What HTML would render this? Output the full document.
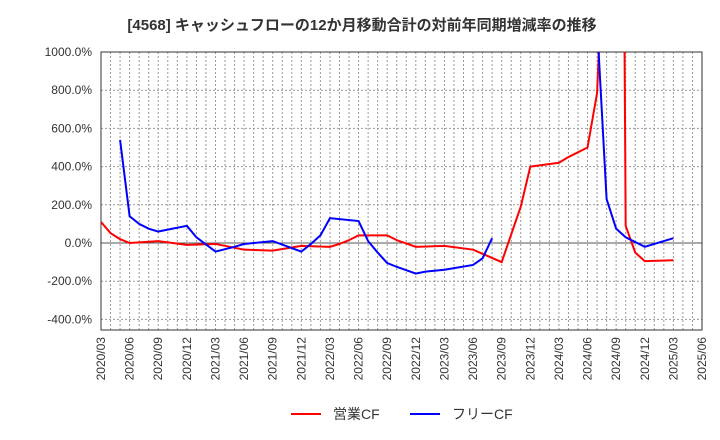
<!DOCTYPE html>
<html><head><meta charset="utf-8">
<style>
body{margin:0;background:#fff;}
svg{display:block;font-family:"Liberation Sans","Noto Sans CJK JP",sans-serif;}
</style></head>
<body>
<svg id="chart" width="720" height="440" viewBox="0 0 720 440">
<text x="362" y="30" text-anchor="middle" font-size="15" font-weight="bold" fill="#333">[4568]  キャッシュフローの12か月移動合計の対前年同期増減率の推移</text>
<g id="grid"></g><g id="axes"></g><g id="series"></g>
<g>
<line x1="291" y1="414" x2="321" y2="414" stroke="#f00" stroke-width="2"/>
<text x="333" y="419" font-size="14" fill="#333">営業CF</text>
<line x1="410" y1="414" x2="440" y2="414" stroke="#00f" stroke-width="2"/>
<text x="452" y="419" font-size="14" fill="#333">フリーCF</text>
</g>
</svg>
<script>
const yTicks=[1000,800,600,400,200,0,-200,-400];
const xTickLabels=["2020/03","2020/06","2020/09","2020/12","2021/03","2021/06","2021/09","2021/12","2022/03","2022/06","2022/09","2022/12","2023/03","2023/06","2023/09","2023/12","2024/03","2024/06","2024/09","2024/12","2025/03","2025/06"];
const opMonths=[0,1,2,3,6,9,12,15,18,21,24,25,26,27,30,31,33,36,39,42,44,45,48,49,51,52,53,54,55,56,57,60];
const opValues=[110,52,20,0,10,-10,-5,-35,-40,-15,-20,-5,15,40,40,15,-20,-15,-35,-100,190,400,420,450,500,785,1900,8000,90,-50,-95,-90];
const freeMonths1=[2,3,4,5,6,9,10,12,14,15,18,21,22,23,24,27,28,29,30,31,33,34,36,39,40,41];
const freeValues1=[540,140,100,75,60,90,30,-45,-20,-5,10,-45,-5,40,130,115,10,-50,-105,-125,-160,-150,-140,-115,-80,25];
const freeMonths2=[52,53,54,55,56,57,60];
const freeValues2=[1150,230,75,30,5,-20,25];
const L=101,R=702,T=52,B=330,NM=63;
const xs=m=>L+(R-L)*m/NM;
const ys=v=>243-v*0.191;
const ns="http://www.w3.org/2000/svg";
function mk(tag,attrs,parent){const e=document.createElementNS(ns,tag);for(const k in attrs)e.setAttribute(k,attrs[k]);parent.appendChild(e);return e;}
const grid=document.getElementById('grid'),axes=document.getElementById('axes'),series=document.getElementById('series');
for(let m=1;m<NM;m++){const l=mk('line',{x1:xs(m),x2:xs(m),y1:T,y2:B,stroke:'#999','stroke-width':1,'stroke-dasharray':'2,2'},grid);

}
yTicks.forEach(v=>{const y=ys(v);
const l=mk('line',{x1:L,x2:R,y1:y,y2:y,stroke:v===0?'#555':'#999','stroke-width':1,'stroke-dasharray':v===0?'':'2,2'},grid);


const t=mk('text',{x:92,y:y+4,'text-anchor':'end','font-size':12,fill:'#333'},axes);t.textContent=v.toFixed(1)+'%';

});
xTickLabels.forEach((s,i)=>{const x=xs(i*3);
const t=mk('text',{transform:`translate(${x+4},337) rotate(-90)`,'text-anchor':'end','font-size':12,fill:'#333'},axes);t.textContent=s;

});
const fr=mk('rect',{x:L,y:T,width:R-L,height:B-T,fill:'none',stroke:'#333','stroke-width':1},axes);


const cp=mk('clipPath',{id:'clip'},series);
mk('rect',{x:L,y:T,width:R-L,height:B-T},cp);
function line(ms,vs,color,name){const p=mk('polyline',{points:ms.map((m,i)=>xs(m)+','+ys(vs[i])).join(' '),fill:'none',stroke:color,'stroke-width':2,'clip-path':'url(#clip)'},series);

}
line(opMonths,opValues,'#f00','operating-cf-line');
line(freeMonths1,freeValues1,'#00f','free-cf-line');
line(freeMonths2,freeValues2,'#00f','free-cf-line-2');
</script>
</body></html>
